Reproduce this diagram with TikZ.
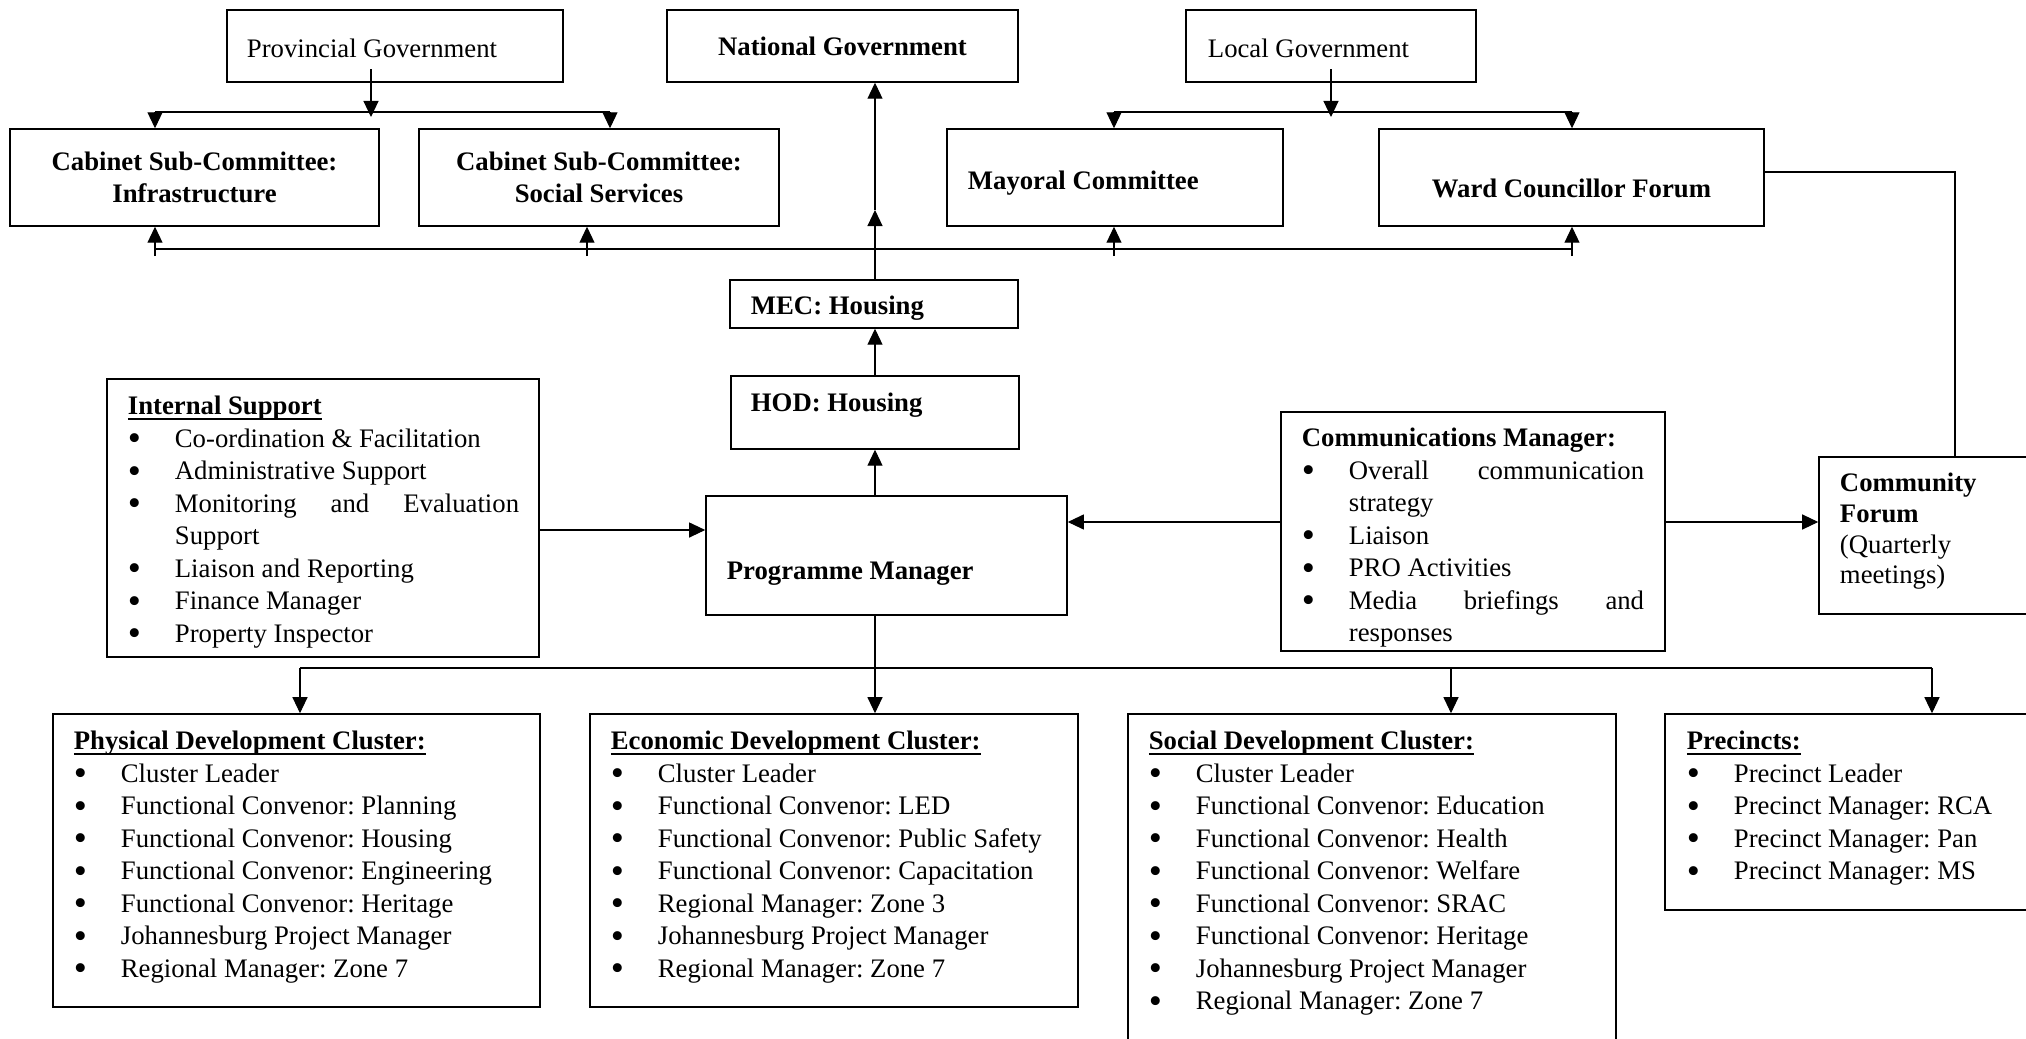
\documentclass[tikz,border=0pt]{standalone}
\usepackage{fontspec}
\usepackage{graphicx}
\setmainfont{Liberation Serif}
\usetikzlibrary{arrows.meta, positioning}

\newcommand{\bitem}[1]{\makebox[0.47cm][l]{\raisebox{-1pt}{\scalebox{1.4}{\textbullet}}}#1}
\newcommand{\bcont}[1]{\hspace*{0.47cm}#1}
\newcommand{\hdr}[1]{\setbox0\hbox{\textbf{#1}}\rlap{\rule[-1.5pt]{\wd0}{0.55pt}}\box0}

\begin{document}
\begin{tikzpicture}[x=0.01cm, y=-0.01cm, >={Triangle[length=0.16cm, width=0.15cm]},
    font=\fontsize{7.6}{9.25}\selectfont\frenchspacing]

\tikzset{
    box/.style={
        draw, line width=0.4pt, inner sep=0pt, align=center
    },
    boxtext/.style={
        inner sep=0pt, align=left, anchor=north west
    },
    link/.style={
        line width=0.3pt
    }
}

% Page frame
\useasboundingbox (0,0) rectangle (2026,1039);
\clip (0,0) rectangle (2026,1039);

% Government tier
\node[box, minimum width=3.36cm, minimum height=0.72cm] (prov) at (395,46) {};
\node[boxtext, below right=0.25cm and 0.20cm of prov.north west] (provT) {\strut Provincial Government};
\node[box, minimum width=3.51cm, minimum height=0.72cm] (natl) at (842.5,46) {\textbf{National Government}};
\node[box, minimum width=2.90cm, minimum height=0.72cm] (local) at (1331,46) {};
\node[boxtext, below right=0.25cm and 0.22cm of local.north west] (localT) {\strut Local Government};

% Committees
\node[box, minimum width=3.69cm, minimum height=0.97cm] (infra) at (194.5,177.5) {\textbf{Cabinet Sub-Committee:}\\\textbf{Infrastructure}};
\node[box, minimum width=3.60cm, minimum height=0.97cm] (socsvc) at (599,177.5) {\textbf{Cabinet Sub-Committee:}\\\textbf{Social Services}};
\node[box, minimum width=3.36cm, minimum height=0.97cm] (mayor) at (1115,177.5) {};
\node[boxtext, below right=0.38cm and 0.21cm of mayor.north west] (mayorT) {\strut\textbf{Mayoral Committee}};
\node[box, minimum width=3.85cm, minimum height=0.97cm] (ward) at (1571.5,177.5) {};
\node[anchor=base, inner sep=0pt] (wardT) at ([yshift=-0.195cm]ward.center) {\textbf{Ward Councillor Forum}};

% Housing line
\node[box, minimum width=2.88cm, minimum height=0.48cm] (mec) at (874,304) {};
\node[boxtext, below right=0.12cm and 0.21cm of mec.north west] (mecT) {\strut\textbf{MEC: Housing}};
\node[box, minimum width=2.88cm, minimum height=0.73cm] (hod) at (875,412.5) {};
\node[boxtext, below right=0.13cm and 0.20cm of hod.north west] (hodT) {\strut\textbf{HOD: Housing}};
\node[box, minimum width=3.61cm, minimum height=1.19cm] (pm) at (886.5,555.5) {};
\node[boxtext, below right=0.61cm and 0.21cm of pm.north west] (pmT) {\strut\textbf{Programme Manager}};

% Support and communications
\node[box, minimum width=4.32cm, minimum height=2.78cm] (int) at (323,518) {};
\node[boxtext, below right=0.13cm and 0.21cm of int.north west] (intT) {\strut\hdr{Internal Support}\\
    \bitem{Co-ordination \& Facilitation}\\
    \bitem{Administrative Support}\\
    \bitem{\makebox[3.44cm][s]{Monitoring and Evaluation}}\\
    \bcont{Support}\\
    \bitem{Liaison and Reporting}\\
    \bitem{Finance Manager}\\
    \bitem{Property Inspector}};

\node[box, minimum width=3.84cm, minimum height=2.39cm] (comms) at (1473,531.5) {};
\node[boxtext, below right=0.12cm and 0.21cm of comms.north west] (commsT) {\strut\textbf{Communications Manager:}\\
    \bitem{\makebox[2.95cm][s]{Overall communication}}\\
    \bcont{strategy}\\
    \bitem{Liaison}\\
    \bitem{PRO Activities}\\
    \bitem{\makebox[2.95cm][s]{Media briefings and}}\\
    \bcont{responses}};

\node[box, minimum width=2.17cm, minimum height=1.57cm] (comm) at (1927.5,535.5) {};
\node[boxtext, below right=0.13cm and 0.21cm of comm.north west, font=\fontsize{7.6}{8.75}\selectfont] (commT) {\strut\textbf{Community}\\
    \textbf{Forum}\\
    (Quarterly\\
    meetings)};

% Clusters
\node[box, minimum width=4.87cm, minimum height=2.93cm] (phys) at (296.5,860.5) {};
\node[boxtext, below right=0.13cm and 0.21cm of phys.north west] (physT) {\strut\hdr{Physical Development Cluster:}\\
    \bitem{Cluster Leader}\\
    \bitem{Functional Convenor: Planning}\\
    \bitem{Functional Convenor: Housing}\\
    \bitem{Functional Convenor: Engineering}\\
    \bitem{Functional Convenor: Heritage}\\
    \bitem{Johannesburg Project Manager}\\
    \bitem{Regional Manager: Zone 7}};

\node[box, minimum width=4.88cm, minimum height=2.93cm] (econ) at (834,860.5) {};
\node[boxtext, below right=0.13cm and 0.21cm of econ.north west] (econT) {\strut\hdr{Economic Development Cluster:}\\
    \bitem{Cluster Leader}\\
    \bitem{Functional Convenor: LED}\\
    \bitem{Functional Convenor: Public Safety}\\
    \bitem{Functional Convenor: Capacitation}\\
    \bitem{Regional Manager: Zone 3}\\
    \bitem{Johannesburg Project Manager}\\
    \bitem{Regional Manager: Zone 7}};

\node[box, minimum width=4.88cm, minimum height=3.36cm] (socdev) at (1372,882) {};
\node[boxtext, below right=0.13cm and 0.21cm of socdev.north west] (socdevT) {\strut\hdr{Social Development Cluster:}\\
    \bitem{Cluster Leader}\\
    \bitem{Functional Convenor: Education}\\
    \bitem{Functional Convenor: Health}\\
    \bitem{Functional Convenor: Welfare}\\
    \bitem{Functional Convenor: SRAC}\\
    \bitem{Functional Convenor: Heritage}\\
    \bitem{Johannesburg Project Manager}\\
    \bitem{Regional Manager: Zone 7}};

\node[box, minimum width=3.71cm, minimum height=1.96cm] (prec) at (1850.5,812) {};
\node[boxtext, below right=0.13cm and 0.22cm of prec.north west] (precT) {\strut\hdr{Precincts:}\\
    \bitem{Precinct Leader}\\
    \bitem{Precinct Manager: RCA}\\
    \bitem{Precinct Manager: Pan}\\
    \bitem{Precinct Manager: MS}};

% Provincial branch
\coordinate (pvS) at (371,69);
\coordinate (pvT) at (371,117);
\coordinate (pvL) at (155,112);
\coordinate (pvR) at (610,112);
\draw[link, ->] (pvS) -- (pvT);
\draw[link] (pvL) -- (pvR);
\draw[link, ->] (pvL) -- (pvL |- infra.north);
\draw[link, ->] (pvR) -- (pvR |- socsvc.north);

% Local branch
\coordinate (lgS) at (1331,69);
\coordinate (lgT) at (1331,117);
\coordinate (lgL) at (1114,112);
\coordinate (lgR) at (1572,112);
\draw[link, ->] (lgS) -- (lgT);
\draw[link] (lgL) -- (lgR);
\draw[link, ->] (lgL) -- (lgL |- mayor.north);
\draw[link, ->] (lgR) -- (lgR |- ward.north);

% Feedback bus to committees
\coordinate (upL) at (155,249);
\coordinate (upR) at (1572,249);
\draw[link] (upL) -- (upR);
\foreach \x/\n in {155/infra, 587/socsvc, 1114/mayor, 1572/ward}
    \draw[link, ->] (\x,256) -- (\x,0 |- \n.south);

% Reporting line
\coordinate (mecM) at (875,210);
\draw[link, ->] (mec.north -| mecM) -- (mecM);
\draw[link, ->] (mecM) -- (mecM |- natl.south);
\draw[link, ->] (hod.north -| mecM) -- (mecM |- mec.south);
\draw[link, ->] (pm.north -| mecM) -- (mecM |- hod.south);

% Side links
\coordinate (intE) at ([yshift=-0.12cm]int.east);
\draw[link, ->] (intE) -- (intE -| pm.west);
\coordinate (cmW) at ([yshift=0.095cm]comms.west);
\draw[link, ->] (cmW) -- (cmW -| pm.east);
\draw[link, ->] (cmW -| comms.east) -- (cmW -| comm.west);
\coordinate (wdE) at ([yshift=0.055cm]ward.east);
\coordinate (cfN) at (1955,457);
\draw[link] (wdE) -| (cfN);

% Cluster bus
\coordinate (clL) at (300,668);
\coordinate (clS) at (1451,668);
\coordinate (clR) at (1932,668);
\draw[link] (clL) -- (clR);
\draw[link, ->] (pm.south -| mecM) -- (mecM |- econ.north);
\draw[link, ->] (clL) -- (clL |- phys.north);
\draw[link, ->] (clS) -- (clS |- socdev.north);
\draw[link, ->] (clR) -- (clR |- prec.north);

\end{tikzpicture}
\end{document}
